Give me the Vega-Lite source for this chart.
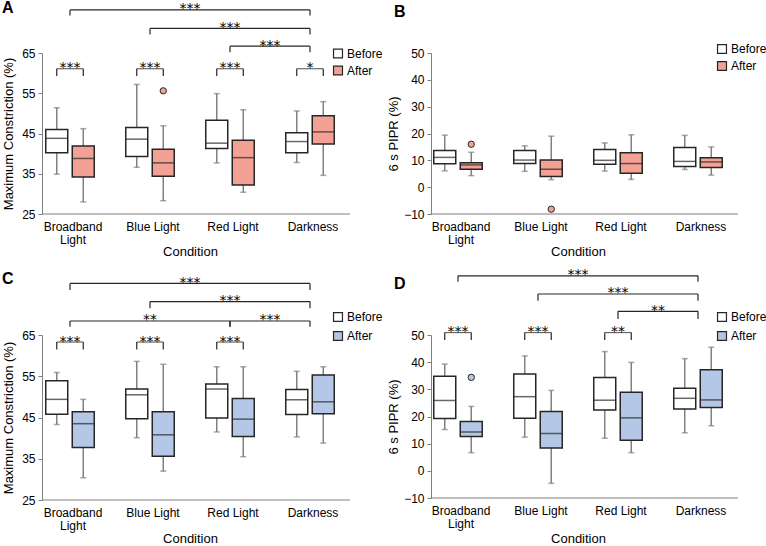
{
  "$schema": "https://vega.github.io/schema/vega-lite/v6.json",
  "padding": {"left": 2, "top": 0, "right": 0, "bottom": 0},
  "columns": 2,
  "bounds": "flush",
  "spacing": {"row": 121, "column": 68},
  "resolve": {"scale": {"fill": "independent", "xOffset": "independent"}, "legend": {"fill": "independent"}},
  "config": {
    "font": "Liberation Sans",
    "view": {"stroke": null},
    "axis": {"labelColor": "#000000", "titleColor": "#000000", "titleFontWeight": "normal", "titleFontSize": 13, "labelFontSize": 12, "domainColor": "#808080", "tickColor": "#808080", "grid": false, "labelOverlap": false},
    "legend": {"labelFontSize": 12, "labelColor": "#000000"},
    "text": {"font": "DejaVu Sans"}
  },
  "datasets": {
    "A_box": [
      {"cond": "Broadband Light", "time": "Before", "min": 34.9, "q1": 40.2, "med": 43.8, "q3": 46.0, "max": 51.4},
      {"cond": "Broadband Light", "time": "After", "min": 28.0, "q1": 34.2, "med": 38.8, "q3": 41.9, "max": 46.2},
      {"cond": "Blue Light", "time": "Before", "min": 36.6, "q1": 39.3, "med": 43.6, "q3": 46.5, "max": 57.2},
      {"cond": "Blue Light", "time": "After", "min": 28.3, "q1": 34.4, "med": 37.7, "q3": 41.1, "max": 46.9},
      {"cond": "Red Light", "time": "Before", "min": 37.7, "q1": 41.3, "med": 42.6, "q3": 48.3, "max": 54.9},
      {"cond": "Red Light", "time": "After", "min": 30.4, "q1": 32.2, "med": 39.0, "q3": 43.3, "max": 50.9},
      {"cond": "Darkness", "time": "Before", "min": 37.8, "q1": 40.2, "med": 43.0, "q3": 45.2, "max": 50.6},
      {"cond": "Darkness", "time": "After", "min": 34.6, "q1": 42.4, "med": 45.4, "q3": 49.4, "max": 52.9}
    ],
    "A_out": [{"cond": "Blue Light", "time": "After", "value": 55.6}],
    "A_within": [
      {"cond": "Broadband Light", "level": 61.1, "foot": 59.3, "sig": "***"},
      {"cond": "Blue Light", "level": 61.1, "foot": 59.3, "sig": "***"},
      {"cond": "Red Light", "level": 61.1, "foot": 59.3, "sig": "***"},
      {"cond": "Darkness", "level": 61.1, "foot": 59.3, "sig": "*"}
    ],
    "A_between": [
      {"from": "Broadband Light", "to": "Darkness", "level": 75.7, "foot": 74.3, "sig": "***", "at": "Blue Light", "pos": "edge"},
      {"from": "Blue Light", "to": "Darkness", "level": 71.1, "foot": 69.6, "sig": "***", "at": "Red Light", "pos": "center"},
      {"from": "Red Light", "to": "Darkness", "level": 66.7, "foot": 65.2, "sig": "***", "at": "Red Light", "pos": "edge"}
    ],
    "B_box": [
      {"cond": "Broadband Light", "time": "Before", "min": 6.1, "q1": 8.7, "med": 11.1, "q3": 13.7, "max": 19.4},
      {"cond": "Broadband Light", "time": "After", "min": 4.3, "q1": 6.7, "med": 8.3, "q3": 9.1, "max": 13.0},
      {"cond": "Blue Light", "time": "Before", "min": 5.9, "q1": 8.8, "med": 10.1, "q3": 13.7, "max": 15.4},
      {"cond": "Blue Light", "time": "After", "min": 2.8, "q1": 4.0, "med": 6.7, "q3": 10.1, "max": 19.0},
      {"cond": "Red Light", "time": "Before", "min": 6.0, "q1": 8.5, "med": 10.0, "q3": 14.0, "max": 16.5},
      {"cond": "Red Light", "time": "After", "min": 2.9, "q1": 5.2, "med": 8.8, "q3": 12.8, "max": 19.5},
      {"cond": "Darkness", "time": "Before", "min": 6.6, "q1": 7.7, "med": 9.6, "q3": 14.8, "max": 19.3},
      {"cond": "Darkness", "time": "After", "min": 4.5, "q1": 7.3, "med": 9.4, "q3": 11.0, "max": 15.0}
    ],
    "B_out": [
      {"cond": "Broadband Light", "time": "After", "value": 16.0},
      {"cond": "Blue Light", "time": "After", "value": -8.2}
    ],
    "C_box": [
      {"cond": "Broadband Light", "time": "Before", "min": 43.3, "q1": 45.8, "med": 49.4, "q3": 53.9, "max": 55.9},
      {"cond": "Broadband Light", "time": "After", "min": 30.4, "q1": 37.7, "med": 43.5, "q3": 46.4, "max": 49.4},
      {"cond": "Blue Light", "time": "Before", "min": 40.1, "q1": 44.7, "med": 50.5, "q3": 51.9, "max": 58.6},
      {"cond": "Blue Light", "time": "After", "min": 32.0, "q1": 35.6, "med": 40.8, "q3": 46.4, "max": 57.9},
      {"cond": "Red Light", "time": "Before", "min": 41.5, "q1": 44.9, "med": 51.9, "q3": 53.1, "max": 57.3},
      {"cond": "Red Light", "time": "After", "min": 35.5, "q1": 40.4, "med": 44.6, "q3": 49.6, "max": 57.3},
      {"cond": "Darkness", "time": "Before", "min": 40.3, "q1": 45.7, "med": 49.3, "q3": 51.8, "max": 56.2},
      {"cond": "Darkness", "time": "After", "min": 38.8, "q1": 45.9, "med": 48.8, "q3": 55.3, "max": 57.3}
    ],
    "C_within": [
      {"cond": "Broadband Light", "level": 63.3, "foot": 61.5, "sig": "***"},
      {"cond": "Blue Light", "level": 63.3, "foot": 61.5, "sig": "***"},
      {"cond": "Red Light", "level": 63.3, "foot": 61.5, "sig": "***"}
    ],
    "C_between": [
      {"from": "Broadband Light", "to": "Darkness", "level": 77.5, "foot": 75.9, "sig": "***", "at": "Blue Light", "pos": "edge"},
      {"from": "Blue Light", "to": "Darkness", "level": 73.1, "foot": 71.5, "sig": "***", "at": "Red Light", "pos": "center"},
      {"from": "Broadband Light", "to": "Red Light", "level": 68.4, "foot": 67.0, "sig": "**", "at": "Blue Light", "pos": "center"},
      {"from": "Red Light", "to": "Darkness", "level": 68.4, "foot": 67.0, "sig": "***", "at": "Red Light", "pos": "edge"}
    ],
    "D_box": [
      {"cond": "Broadband Light", "time": "Before", "min": 15.2, "q1": 19.3, "med": 25.9, "q3": 34.8, "max": 39.3},
      {"cond": "Broadband Light", "time": "After", "min": 6.7, "q1": 12.6, "med": 14.3, "q3": 18.2, "max": 23.7},
      {"cond": "Blue Light", "time": "Before", "min": 12.4, "q1": 19.4, "med": 27.3, "q3": 35.6, "max": 42.3},
      {"cond": "Blue Light", "time": "After", "min": -4.6, "q1": 8.4, "med": 13.7, "q3": 21.8, "max": 29.6},
      {"cond": "Red Light", "time": "Before", "min": 12.0, "q1": 22.4, "med": 26.0, "q3": 34.4, "max": 43.9},
      {"cond": "Red Light", "time": "After", "min": 6.7, "q1": 11.3, "med": 19.5, "q3": 28.9, "max": 39.9},
      {"cond": "Darkness", "time": "Before", "min": 14.0, "q1": 22.8, "med": 26.7, "q3": 30.4, "max": 41.3},
      {"cond": "Darkness", "time": "After", "min": 16.6, "q1": 23.3, "med": 26.1, "q3": 37.2, "max": 45.5}
    ],
    "D_out": [{"cond": "Broadband Light", "time": "After", "value": 34.4}],
    "D_within": [
      {"cond": "Broadband Light", "level": 50.9, "foot": 48.2, "sig": "***"},
      {"cond": "Blue Light", "level": 50.9, "foot": 48.2, "sig": "***"},
      {"cond": "Red Light", "level": 50.9, "foot": 48.2, "sig": "**"}
    ],
    "D_between": [
      {"from": "Broadband Light", "to": "Darkness", "level": 71.8, "foot": 69.6, "sig": "***", "at": "Blue Light", "pos": "edge"},
      {"from": "Blue Light", "to": "Darkness", "level": 65.1, "foot": 62.6, "sig": "***", "at": "Red Light", "pos": "center"},
      {"from": "Red Light", "to": "Darkness", "level": 58.7, "foot": 55.9, "sig": "**", "at": "Red Light", "pos": "edge"}
    ]
  },
  "concat": [
    {
      "width": 320, "height": 161,
      "title": {"text": "A", "anchor": "start", "frame": "group", "fontSize": 16, "fontWeight": "bold", "color": "#000000", "dx": -28, "offset": 4, "dy": 18},
      "layer": [
        {"data": {"name": "A_box"}, "mark": {"type": "rule", "color": "#808080", "strokeWidth": 1.5},
         "encoding": {
           "x": {"field": "cond", "type": "nominal", "scale": {"domain": ["Broadband Light", "Blue Light", "Red Light", "Darkness"], "paddingInner": 0, "paddingOuter": 0},
                 "axis": {"title": "Condition", "ticks": false, "domain": false, "labelAngle": 0, "labelExpr": "datum.value == 'Broadband Light' ? ['Broadband', 'Light'] : datum.value", "labelLineHeight": 13, "labelPadding": 7, "labelOffset": 3, "titlePadding": 0}},
           "xOffset": {"field": "time", "type": "nominal", "scale": {"domain": ["Before", "After"], "paddingInner": 0.17, "paddingOuter": 0.594}},
           "y": {"field": "min", "type": "quantitative", "scale": {"domain": [25, 65], "nice": false, "zero": false},
                 "axis": {"title": "Maximum Constriction (%)", "values": [25, 35, 45, 55, 65], "tickCount": 10, "offset": -12, "tickSize": 4, "labelPadding": 3, "titlePadding": 6, "labelOverlap": false}},
           "y2": {"field": "max"}}},
        {"data": {"name": "A_box"}, "mark": {"type": "tick", "color": "#808080", "size": 6, "thickness": 1.5},
         "encoding": {"x": {"field": "cond", "type": "nominal"}, "xOffset": {"field": "time", "type": "nominal"}, "y": {"field": "min", "type": "quantitative"}}},
        {"data": {"name": "A_box"}, "mark": {"type": "tick", "color": "#808080", "size": 6, "thickness": 1.5},
         "encoding": {"x": {"field": "cond", "type": "nominal"}, "xOffset": {"field": "time", "type": "nominal"}, "y": {"field": "max", "type": "quantitative"}}},
        {"data": {"name": "A_box"}, "mark": {"type": "rect", "stroke": "#262626", "strokeWidth": 1.5},
         "encoding": {"x": {"field": "cond", "type": "nominal"}, "xOffset": {"field": "time", "type": "nominal"},
           "y": {"field": "q1", "type": "quantitative"}, "y2": {"field": "q3"},
           "fill": {"field": "time", "type": "nominal", "scale": {"domain": ["Before", "After"], "range": ["#ffffff", "#F4A195"]},
                    "legend": {"title": null, "orient": "none", "legendX": 302, "legendY": -5.5, "symbolType": "square", "symbolSize": 80, "symbolStrokeColor": "#262626", "symbolStrokeWidth": 1.2, "labelOffset": 3, "rowPadding": 3, "padding": 0}}}},
        {"data": {"name": "A_box"}, "mark": {"type": "tick", "color": "#262626", "size": 22, "thickness": 1.5},
         "encoding": {"x": {"field": "cond", "type": "nominal"}, "xOffset": {"field": "time", "type": "nominal"}, "y": {"field": "med", "type": "quantitative"}}},
        {"data": {"name": "A_out"}, "mark": {"type": "point", "filled": true, "fill": "#F4A195", "stroke": "#262626", "strokeWidth": 1, "size": 40, "opacity": 1},
         "encoding": {"x": {"field": "cond", "type": "nominal"}, "xOffset": {"field": "time", "type": "nominal"}, "y": {"field": "value", "type": "quantitative"}}},
        {"data": {"values": [{}]}, "mark": {"type": "rule", "color": "#808080", "strokeWidth": 1.2},
         "encoding": {"x": {"datum": "Broadband Light", "type": "nominal", "bandPosition": 0.15}, "x2": {"datum": "Darkness", "bandPosition": 1}, "y": {"datum": 25, "type": "quantitative"}}},
        {"data": {"name": "A_within"}, "mark": {"type": "tick", "color": "#262626", "size": 26.5, "thickness": 1.2},
         "encoding": {"x": {"field": "cond", "type": "nominal"}, "y": {"field": "level", "type": "quantitative"}}},
        {"data": {"name": "A_within"}, "mark": {"type": "rule", "color": "#262626", "strokeWidth": 1.2},
         "encoding": {"x": {"field": "cond", "type": "nominal"}, "xOffset": {"datum": "Before"}, "y": {"field": "foot", "type": "quantitative"}, "y2": {"field": "level"}}},
        {"data": {"name": "A_within"}, "mark": {"type": "rule", "color": "#262626", "strokeWidth": 1.2},
         "encoding": {"x": {"field": "cond", "type": "nominal"}, "xOffset": {"datum": "After"}, "y": {"field": "foot", "type": "quantitative"}, "y2": {"field": "level"}}},
        {"data": {"name": "A_within"}, "mark": {"type": "text", "fontSize": 14, "baseline": "alphabetic", "dy": 3.5, "color": "#000000"},
         "encoding": {"x": {"field": "cond", "type": "nominal"}, "y": {"field": "level", "type": "quantitative"}, "text": {"field": "sig"}}},
        {"data": {"name": "A_between"}, "mark": {"type": "rule", "color": "#262626", "strokeWidth": 1.2},
         "encoding": {"x": {"field": "from", "type": "nominal", "bandPosition": 0.5}, "x2": {"field": "to", "bandPosition": 0.5}, "y": {"field": "level", "type": "quantitative"}}},
        {"data": {"name": "A_between"}, "mark": {"type": "rule", "color": "#262626", "strokeWidth": 1.2},
         "encoding": {"x": {"field": "from", "type": "nominal", "bandPosition": 0.5}, "y": {"field": "foot", "type": "quantitative"}, "y2": {"field": "level"}}},
        {"data": {"name": "A_between"}, "mark": {"type": "rule", "color": "#262626", "strokeWidth": 1.2},
         "encoding": {"x": {"field": "to", "type": "nominal", "bandPosition": 0.5}, "y": {"field": "foot", "type": "quantitative"}, "y2": {"field": "level"}}},
        {"data": {"name": "A_between"}, "transform": [{"filter": "datum.pos == 'center'"}], "mark": {"type": "text", "fontSize": 14, "baseline": "alphabetic", "dy": 3.5, "color": "#000000"},
         "encoding": {"x": {"field": "at", "type": "nominal", "bandPosition": 0.5}, "y": {"field": "level", "type": "quantitative"}, "text": {"field": "sig"}}},
        {"data": {"name": "A_between"}, "transform": [{"filter": "datum.pos == 'edge'"}], "mark": {"type": "text", "fontSize": 14, "baseline": "alphabetic", "dy": 3.5, "color": "#000000"},
         "encoding": {"x": {"field": "at", "type": "nominal", "bandPosition": 1}, "y": {"field": "level", "type": "quantitative"}, "text": {"field": "sig"}}}
      ]
    },
    {
      "width": 320, "height": 161,
      "title": {"text": "B", "anchor": "start", "frame": "group", "fontSize": 16, "fontWeight": "bold", "color": "#000000", "dx": -24, "offset": 4, "dy": -19},
      "layer": [
        {"data": {"name": "B_box"}, "mark": {"type": "rule", "color": "#808080", "strokeWidth": 1.5},
         "encoding": {
           "x": {"field": "cond", "type": "nominal", "scale": {"domain": ["Broadband Light", "Blue Light", "Red Light", "Darkness"], "paddingInner": 0, "paddingOuter": 0},
                 "axis": {"title": "Condition", "ticks": false, "domain": false, "labelAngle": 0, "labelExpr": "datum.value == 'Broadband Light' ? ['Broadband', 'Light'] : datum.value", "labelLineHeight": 13, "labelPadding": 7, "labelOffset": 3, "titlePadding": 0}},
           "xOffset": {"field": "time", "type": "nominal", "scale": {"domain": ["Before", "After"], "paddingInner": 0.17, "paddingOuter": 0.594}},
           "y": {"field": "min", "type": "quantitative", "scale": {"domain": [-10, 50], "nice": false, "zero": false},
                 "axis": {"title": "6 s PIPR (%)", "values": [-10, 0, 10, 20, 30, 40, 50], "tickCount": 10, "offset": -13, "tickSize": 4, "labelPadding": 3, "titlePadding": 3, "labelOverlap": false, "labelFlush": false}},
           "y2": {"field": "max"}}},
        {"data": {"name": "B_box"}, "mark": {"type": "tick", "color": "#808080", "size": 6, "thickness": 1.5},
         "encoding": {"x": {"field": "cond", "type": "nominal"}, "xOffset": {"field": "time", "type": "nominal"}, "y": {"field": "min", "type": "quantitative"}}},
        {"data": {"name": "B_box"}, "mark": {"type": "tick", "color": "#808080", "size": 6, "thickness": 1.5},
         "encoding": {"x": {"field": "cond", "type": "nominal"}, "xOffset": {"field": "time", "type": "nominal"}, "y": {"field": "max", "type": "quantitative"}}},
        {"data": {"name": "B_box"}, "mark": {"type": "rect", "stroke": "#262626", "strokeWidth": 1.5},
         "encoding": {"x": {"field": "cond", "type": "nominal"}, "xOffset": {"field": "time", "type": "nominal"},
           "y": {"field": "q1", "type": "quantitative"}, "y2": {"field": "q3"},
           "fill": {"field": "time", "type": "nominal", "scale": {"domain": ["Before", "After"], "range": ["#ffffff", "#F4A195"]},
                    "legend": {"title": null, "orient": "none", "legendX": 298, "legendY": -10, "symbolType": "square", "symbolSize": 80, "symbolStrokeColor": "#262626", "symbolStrokeWidth": 1.2, "labelOffset": 3, "rowPadding": 3, "padding": 0}}}},
        {"data": {"name": "B_box"}, "mark": {"type": "tick", "color": "#262626", "size": 22, "thickness": 1.5},
         "encoding": {"x": {"field": "cond", "type": "nominal"}, "xOffset": {"field": "time", "type": "nominal"}, "y": {"field": "med", "type": "quantitative"}}},
        {"data": {"name": "B_out"}, "mark": {"type": "point", "filled": true, "fill": "#F4A195", "stroke": "#262626", "strokeWidth": 1, "size": 40, "opacity": 1},
         "encoding": {"x": {"field": "cond", "type": "nominal"}, "xOffset": {"field": "time", "type": "nominal"}, "y": {"field": "value", "type": "quantitative"}}},
        {"data": {"values": [{}]}, "mark": {"type": "rule", "color": "#808080", "strokeWidth": 1.2},
         "encoding": {"x": {"datum": "Broadband Light", "type": "nominal", "bandPosition": 0.16}, "x2": {"datum": "Darkness", "bandPosition": 1}, "y": {"datum": -10, "type": "quantitative"}}}
      ]
    },
    {
      "width": 320, "height": 165,
      "title": {"text": "C", "anchor": "start", "frame": "group", "fontSize": 16, "fontWeight": "bold", "color": "#000000", "dx": -28, "offset": 4, "dy": 15},
      "layer": [
        {"data": {"name": "C_box"}, "mark": {"type": "rule", "color": "#808080", "strokeWidth": 1.5},
         "encoding": {
           "x": {"field": "cond", "type": "nominal", "scale": {"domain": ["Broadband Light", "Blue Light", "Red Light", "Darkness"], "paddingInner": 0, "paddingOuter": 0},
                 "axis": {"title": "Condition", "ticks": false, "domain": false, "labelAngle": 0, "labelExpr": "datum.value == 'Broadband Light' ? ['Broadband', 'Light'] : datum.value", "labelLineHeight": 13, "labelPadding": 7, "labelOffset": 3, "titlePadding": 1}},
           "xOffset": {"field": "time", "type": "nominal", "scale": {"domain": ["Before", "After"], "paddingInner": 0.17, "paddingOuter": 0.594}},
           "y": {"field": "min", "type": "quantitative", "scale": {"domain": [25, 65], "nice": false, "zero": false},
                 "axis": {"title": "Maximum Constriction (%)", "values": [25, 35, 45, 55, 65], "tickCount": 10, "offset": -12, "tickSize": 4, "labelPadding": 3, "titlePadding": 6, "labelOverlap": false}},
           "y2": {"field": "max"}}},
        {"data": {"name": "C_box"}, "mark": {"type": "tick", "color": "#808080", "size": 6, "thickness": 1.5},
         "encoding": {"x": {"field": "cond", "type": "nominal"}, "xOffset": {"field": "time", "type": "nominal"}, "y": {"field": "min", "type": "quantitative"}}},
        {"data": {"name": "C_box"}, "mark": {"type": "tick", "color": "#808080", "size": 6, "thickness": 1.5},
         "encoding": {"x": {"field": "cond", "type": "nominal"}, "xOffset": {"field": "time", "type": "nominal"}, "y": {"field": "max", "type": "quantitative"}}},
        {"data": {"name": "C_box"}, "mark": {"type": "rect", "stroke": "#262626", "strokeWidth": 1.5},
         "encoding": {"x": {"field": "cond", "type": "nominal"}, "xOffset": {"field": "time", "type": "nominal"},
           "y": {"field": "q1", "type": "quantitative"}, "y2": {"field": "q3"},
           "fill": {"field": "time", "type": "nominal", "scale": {"domain": ["Before", "After"], "range": ["#ffffff", "#B4C7E7"]},
                    "legend": {"title": null, "orient": "none", "legendX": 302, "legendY": -24, "symbolType": "square", "symbolSize": 80, "symbolStrokeColor": "#262626", "symbolStrokeWidth": 1.2, "labelOffset": 3, "rowPadding": 5, "padding": 0}}}},
        {"data": {"name": "C_box"}, "mark": {"type": "tick", "color": "#262626", "size": 22, "thickness": 1.5},
         "encoding": {"x": {"field": "cond", "type": "nominal"}, "xOffset": {"field": "time", "type": "nominal"}, "y": {"field": "med", "type": "quantitative"}}},
        {"data": {"values": [{}]}, "mark": {"type": "rule", "color": "#808080", "strokeWidth": 1.2},
         "encoding": {"x": {"datum": "Broadband Light", "type": "nominal", "bandPosition": 0.15}, "x2": {"datum": "Darkness", "bandPosition": 1}, "y": {"datum": 25, "type": "quantitative"}}},
        {"data": {"name": "C_within"}, "mark": {"type": "tick", "color": "#262626", "size": 26.5, "thickness": 1.2},
         "encoding": {"x": {"field": "cond", "type": "nominal"}, "y": {"field": "level", "type": "quantitative"}}},
        {"data": {"name": "C_within"}, "mark": {"type": "rule", "color": "#262626", "strokeWidth": 1.2},
         "encoding": {"x": {"field": "cond", "type": "nominal"}, "xOffset": {"datum": "Before"}, "y": {"field": "foot", "type": "quantitative"}, "y2": {"field": "level"}}},
        {"data": {"name": "C_within"}, "mark": {"type": "rule", "color": "#262626", "strokeWidth": 1.2},
         "encoding": {"x": {"field": "cond", "type": "nominal"}, "xOffset": {"datum": "After"}, "y": {"field": "foot", "type": "quantitative"}, "y2": {"field": "level"}}},
        {"data": {"name": "C_within"}, "mark": {"type": "text", "fontSize": 14, "baseline": "alphabetic", "dy": 3.5, "color": "#000000"},
         "encoding": {"x": {"field": "cond", "type": "nominal"}, "y": {"field": "level", "type": "quantitative"}, "text": {"field": "sig"}}},
        {"data": {"name": "C_between"}, "mark": {"type": "rule", "color": "#262626", "strokeWidth": 1.2},
         "encoding": {"x": {"field": "from", "type": "nominal", "bandPosition": 0.5}, "x2": {"field": "to", "bandPosition": 0.5}, "y": {"field": "level", "type": "quantitative"}}},
        {"data": {"name": "C_between"}, "mark": {"type": "rule", "color": "#262626", "strokeWidth": 1.2},
         "encoding": {"x": {"field": "from", "type": "nominal", "bandPosition": 0.5}, "y": {"field": "foot", "type": "quantitative"}, "y2": {"field": "level"}}},
        {"data": {"name": "C_between"}, "mark": {"type": "rule", "color": "#262626", "strokeWidth": 1.2},
         "encoding": {"x": {"field": "to", "type": "nominal", "bandPosition": 0.5}, "y": {"field": "foot", "type": "quantitative"}, "y2": {"field": "level"}}},
        {"data": {"name": "C_between"}, "transform": [{"filter": "datum.pos == 'center'"}], "mark": {"type": "text", "fontSize": 14, "baseline": "alphabetic", "dy": 3.5, "color": "#000000"},
         "encoding": {"x": {"field": "at", "type": "nominal", "bandPosition": 0.5}, "y": {"field": "level", "type": "quantitative"}, "text": {"field": "sig"}}},
        {"data": {"name": "C_between"}, "transform": [{"filter": "datum.pos == 'edge'"}], "mark": {"type": "text", "fontSize": 14, "baseline": "alphabetic", "dy": 3.5, "color": "#000000"},
         "encoding": {"x": {"field": "at", "type": "nominal", "bandPosition": 1}, "y": {"field": "level", "type": "quantitative"}, "text": {"field": "sig"}}}
      ]
    },
    {
      "width": 320, "height": 163,
      "title": {"text": "D", "anchor": "start", "frame": "group", "fontSize": 16, "fontWeight": "bold", "color": "#000000", "dx": -24, "offset": 4, "dy": 28},
      "layer": [
        {"data": {"name": "D_box"}, "mark": {"type": "rule", "color": "#808080", "strokeWidth": 1.5},
         "encoding": {
           "x": {"field": "cond", "type": "nominal", "scale": {"domain": ["Broadband Light", "Blue Light", "Red Light", "Darkness"], "paddingInner": 0, "paddingOuter": 0},
                 "axis": {"title": "Condition", "ticks": false, "domain": false, "labelAngle": 0, "labelExpr": "datum.value == 'Broadband Light' ? ['Broadband', 'Light'] : datum.value", "labelLineHeight": 13, "labelPadding": 7, "labelOffset": 3, "titlePadding": 3}},
           "xOffset": {"field": "time", "type": "nominal", "scale": {"domain": ["Before", "After"], "paddingInner": 0.17, "paddingOuter": 0.594}},
           "y": {"field": "min", "type": "quantitative", "scale": {"domain": [-10, 50], "nice": false, "zero": false},
                 "axis": {"title": "6 s PIPR (%)", "values": [-10, 0, 10, 20, 30, 40, 50], "tickCount": 10, "offset": -13, "tickSize": 4, "labelPadding": 3, "titlePadding": 3, "labelOverlap": false, "labelFlush": false}},
           "y2": {"field": "max"}}},
        {"data": {"name": "D_box"}, "mark": {"type": "tick", "color": "#808080", "size": 6, "thickness": 1.5},
         "encoding": {"x": {"field": "cond", "type": "nominal"}, "xOffset": {"field": "time", "type": "nominal"}, "y": {"field": "min", "type": "quantitative"}}},
        {"data": {"name": "D_box"}, "mark": {"type": "tick", "color": "#808080", "size": 6, "thickness": 1.5},
         "encoding": {"x": {"field": "cond", "type": "nominal"}, "xOffset": {"field": "time", "type": "nominal"}, "y": {"field": "max", "type": "quantitative"}}},
        {"data": {"name": "D_box"}, "mark": {"type": "rect", "stroke": "#262626", "strokeWidth": 1.5},
         "encoding": {"x": {"field": "cond", "type": "nominal"}, "xOffset": {"field": "time", "type": "nominal"},
           "y": {"field": "q1", "type": "quantitative"}, "y2": {"field": "q3"},
           "fill": {"field": "time", "type": "nominal", "scale": {"domain": ["Before", "After"], "range": ["#ffffff", "#B4C7E7"]},
                    "legend": {"title": null, "orient": "none", "legendX": 298, "legendY": -24, "symbolType": "square", "symbolSize": 80, "symbolStrokeColor": "#262626", "symbolStrokeWidth": 1.2, "labelOffset": 3, "rowPadding": 5, "padding": 0}}}},
        {"data": {"name": "D_box"}, "mark": {"type": "tick", "color": "#262626", "size": 22, "thickness": 1.5},
         "encoding": {"x": {"field": "cond", "type": "nominal"}, "xOffset": {"field": "time", "type": "nominal"}, "y": {"field": "med", "type": "quantitative"}}},
        {"data": {"name": "D_out"}, "mark": {"type": "point", "filled": true, "fill": "#B4C7E7", "stroke": "#262626", "strokeWidth": 1, "size": 40, "opacity": 1},
         "encoding": {"x": {"field": "cond", "type": "nominal"}, "xOffset": {"field": "time", "type": "nominal"}, "y": {"field": "value", "type": "quantitative"}}},
        {"data": {"values": [{}]}, "mark": {"type": "rule", "color": "#808080", "strokeWidth": 1.2},
         "encoding": {"x": {"datum": "Broadband Light", "type": "nominal", "bandPosition": 0.16}, "x2": {"datum": "Darkness", "bandPosition": 1}, "y": {"datum": -10, "type": "quantitative"}}},
        {"data": {"name": "D_within"}, "mark": {"type": "tick", "color": "#262626", "size": 26.5, "thickness": 1.2},
         "encoding": {"x": {"field": "cond", "type": "nominal"}, "y": {"field": "level", "type": "quantitative"}}},
        {"data": {"name": "D_within"}, "mark": {"type": "rule", "color": "#262626", "strokeWidth": 1.2},
         "encoding": {"x": {"field": "cond", "type": "nominal"}, "xOffset": {"datum": "Before"}, "y": {"field": "foot", "type": "quantitative"}, "y2": {"field": "level"}}},
        {"data": {"name": "D_within"}, "mark": {"type": "rule", "color": "#262626", "strokeWidth": 1.2},
         "encoding": {"x": {"field": "cond", "type": "nominal"}, "xOffset": {"datum": "After"}, "y": {"field": "foot", "type": "quantitative"}, "y2": {"field": "level"}}},
        {"data": {"name": "D_within"}, "mark": {"type": "text", "fontSize": 14, "baseline": "alphabetic", "dy": 3.5, "color": "#000000"},
         "encoding": {"x": {"field": "cond", "type": "nominal"}, "y": {"field": "level", "type": "quantitative"}, "text": {"field": "sig"}}},
        {"data": {"name": "D_between"}, "mark": {"type": "rule", "color": "#262626", "strokeWidth": 1.2},
         "encoding": {"x": {"field": "from", "type": "nominal", "bandPosition": 0.5}, "x2": {"field": "to", "bandPosition": 0.5}, "y": {"field": "level", "type": "quantitative"}}},
        {"data": {"name": "D_between"}, "mark": {"type": "rule", "color": "#262626", "strokeWidth": 1.2},
         "encoding": {"x": {"field": "from", "type": "nominal", "bandPosition": 0.5}, "y": {"field": "foot", "type": "quantitative"}, "y2": {"field": "level"}}},
        {"data": {"name": "D_between"}, "mark": {"type": "rule", "color": "#262626", "strokeWidth": 1.2},
         "encoding": {"x": {"field": "to", "type": "nominal", "bandPosition": 0.5}, "y": {"field": "foot", "type": "quantitative"}, "y2": {"field": "level"}}},
        {"data": {"name": "D_between"}, "transform": [{"filter": "datum.pos == 'center'"}], "mark": {"type": "text", "fontSize": 14, "baseline": "alphabetic", "dy": 3.5, "color": "#000000"},
         "encoding": {"x": {"field": "at", "type": "nominal", "bandPosition": 0.5}, "y": {"field": "level", "type": "quantitative"}, "text": {"field": "sig"}}},
        {"data": {"name": "D_between"}, "transform": [{"filter": "datum.pos == 'edge'"}], "mark": {"type": "text", "fontSize": 14, "baseline": "alphabetic", "dy": 3.5, "color": "#000000"},
         "encoding": {"x": {"field": "at", "type": "nominal", "bandPosition": 1}, "y": {"field": "level", "type": "quantitative"}, "text": {"field": "sig"}}}
      ]
    }
  ]
}
